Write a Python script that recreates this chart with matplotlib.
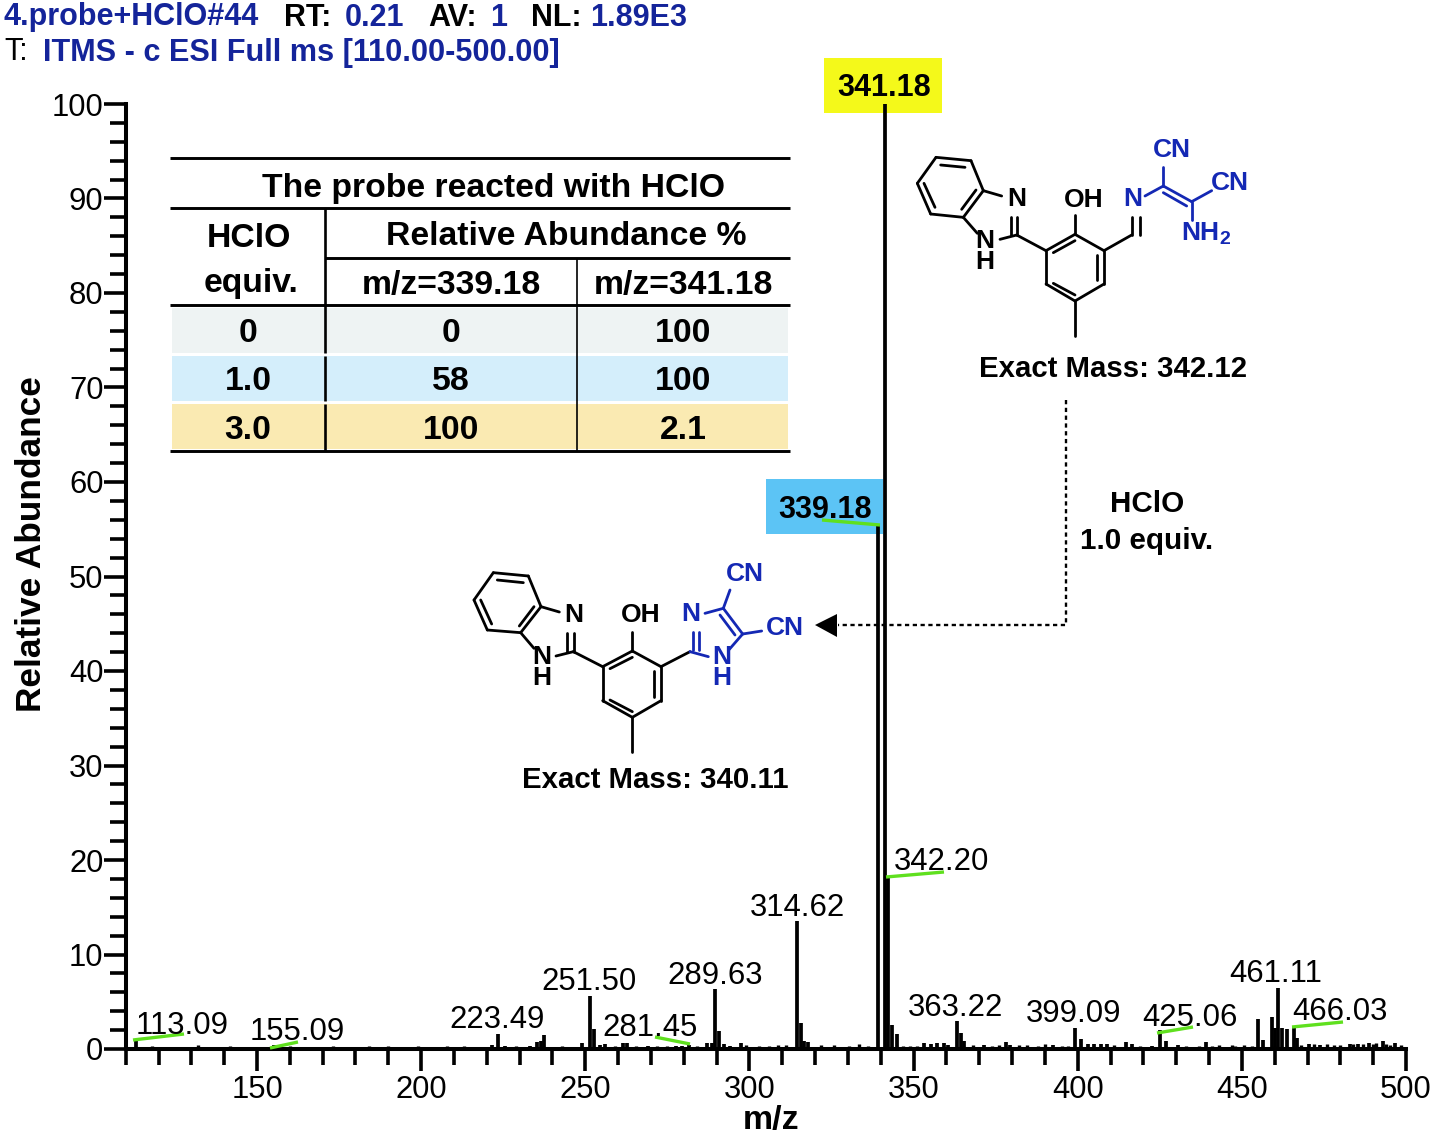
import matplotlib
matplotlib.use("Agg")
import matplotlib.pyplot as plt
from matplotlib.patches import Polygon, Rectangle

plt.rcParams['font.family'] = ['Liberation Sans', 'DejaVu Sans']

# Main peaks
peak_mz = [113.09, 155.09, 221.5, 223.49, 225.6, 233.3, 235.3, 236.5, 237.4, 249.0,
           251.50, 252.8, 254.5, 256.0, 261.5, 262.8, 269.0, 277.6, 279.5, 281.45,
           287.2, 288.5, 289.63, 290.8, 292.3, 294.2, 297.4, 314.62, 315.6, 316.6,
           317.7, 339.18, 341.18, 342.20, 343.4, 344.8, 353.3, 355.2, 357.2, 359.2,
           360.5, 363.22, 364.4, 365.3, 371.6, 378.1, 379.4, 392.5, 399.09, 401.0,
           403.0, 405.0, 407.0, 409.0, 414.8, 416.4, 422.6, 425.06, 427.0, 430.5,
           439.0, 455.0, 456.3, 459.3, 460.2, 461.11, 462.2, 463.9, 466.03, 466.9,
           470.4, 473.7, 482.9, 485.5, 488.7, 492.9, 496.6]
peak_rel = [1.0, 0.4, 0.4, 1.6, 0.3, 0.3, 0.7, 0.8, 1.5, 0.6,
            5.6, 2.1, 0.4, 0.5, 0.6, 0.6, 0.3, 0.3, 0.3, 0.4,
            0.6, 0.6, 6.3, 1.9, 0.5, 0.3, 0.6, 13.5, 2.8, 0.8,
            0.7, 55.5, 100, 18.2, 2.5, 1.6, 0.6, 0.5, 0.6, 0.6,
            0.4, 3.0, 1.7, 0.8, 0.4, 0.7, 0.4, 0.4, 2.2, 1.1,
            0.5, 0.5, 0.5, 0.5, 0.7, 0.5, 0.3, 2.0, 0.8, 0.4,
            0.7, 3.2, 0.9, 3.4, 2.2, 6.5, 2.2, 2.1, 2.3, 1.2,
            0.5, 0.4, 0.5, 0.5, 0.6, 0.8, 0.6]

# Low level noise along the baseline
noise_mz = [118, 132, 141.7, 157, 160, 173, 184, 190, 199, 208, 213, 229, 243, 259, 265.4,
            271.8, 275, 284, 299, 303, 306, 308.8, 311, 321.9, 325.8, 330.4, 333.4, 336,
            346.7, 349, 351, 368, 374, 376, 382, 384.7, 388, 390, 395.2, 397, 411, 419,
            433, 437, 441, 443, 446.9, 448, 450.8, 453, 468, 472, 476, 478, 480, 484,
            487, 490, 491, 494, 495, 498.6]
noise_rel = [0.3, 0.4, 0.3, 0.3, 0.3, 0.3, 0.3, 0.3, 0.3, 0.3, 0.3, 0.3, 0.3, 0.3, 0.3,
             0.3, 0.3, 0.3, 0.4, 0.3, 0.3, 0.4, 0.4, 0.4, 0.4, 0.3, 0.5, 0.3,
             0.3, 0.3, 0.3, 0.4, 0.3, 0.4, 0.4, 0.4, 0.3, 0.5, 0.3, 0.3, 0.4, 0.3,
             0.3, 0.3, 0.3, 0.4, 0.4, 0.3, 0.4, 0.3, 0.4, 0.5, 0.5, 0.4, 0.4, 0.5,
             0.5, 0.5, 0.6, 0.5, 0.4, 0.4]

# Labelled peaks
label_text = ['113.09', '155.09', '223.49', '251.50', '281.45', '289.63', '314.62',
              '342.20', '363.22', '399.09', '425.06', '461.11', '466.03']
label_xy = [(182, 1024), (297, 1030), (497, 1017), (589, 980), (650, 1026), (715, 973),
            (797, 905), (942, 860), (956, 1005), (1074, 1011), (1190, 1016), (1276, 971),
            (1340, 1010)]
green_lines = [[(133, 1040), (184, 1034)], [(270, 1048), (298, 1042)], [(655, 1037), (690, 1044)],
               [(886, 877), (944, 872)], [(1157, 1033), (1193, 1027)], [(1292, 1027), (1343, 1022)],
               [(822, 520), (880, 525)]]

# Table contents
table_equiv = ['0', '1.0', '3.0']
table_339 = ['0', '58', '100']
table_341 = ['100', '100', '2.1']
row_colors = ['#eef3f3', '#d4eefb', '#faeab2']

W, H = 1434, 1136
fig = plt.figure(figsize=(W / 100, H / 100), dpi=100, facecolor='white')

# background overlay in pixels, for the coloured boxes
bg = fig.add_axes([0, 0, 1, 1], zorder=0)
bg.set_xlim(0, W)
bg.set_ylim(H, 0)
bg.axis('off')
bg.add_patch(Rectangle((824, 58), 118, 55, color='#f4f91a', lw=0))
bg.add_patch(Rectangle((766, 479), 117, 55, color='#5cc4f5', lw=0))

# Spectrum
x0, x1, y0, y1 = 125.7, 1406, 1049, 104
ax = fig.add_axes([x0 / W, 1 - y0 / H, (x1 - x0) / W, (y0 - y1) / H], zorder=1)
ax.patch.set_alpha(0)
ax.set_xlim(110, 500)
ax.set_ylim(0, 100)
ax.vlines(peak_mz, 0, peak_rel, color='black', lw=2.7)
ax.vlines(noise_mz, 0, noise_rel, color='black', lw=2.4)
ax.spines['top'].set_visible(False)
ax.spines['right'].set_visible(False)
ax.spines['left'].set_linewidth(2.9)
ax.spines['bottom'].set_linewidth(2.9)
ax.set_xticks(range(150, 501, 50))
ax.set_xticks(range(110, 501, 10), minor=True)
ax.set_yticks(range(0, 101, 10))
ax.set_yticks(range(0, 101, 2), minor=True)
ax.tick_params(axis='both', which='major', length=16, width=2.6, labelsize=22.3)
ax.tick_params(axis='both', which='minor', length=11.5, width=2.6)
ax.tick_params(axis='x', which='major', pad=2.5)
ax.tick_params(axis='y', which='major', pad=0)
for s in ax.spines.values():
    s.set_zorder(5)

# foreground overlay in pixels
ov = fig.add_axes([0, 0, 1, 1], zorder=2)
ov.set_xlim(0, W)
ov.set_ylim(H, 0)
ov.axis('off')
ov.patch.set_alpha(0)


def txt(x, y, s, size=22, bold=True, color='black', ha='center'):
    ov.text(x, y - 1, s, fontsize=size, fontweight='bold' if bold else 'normal',
            color=color, ha=ha, va='center' if '\n' in s else 'center_baseline',
            linespacing=0.85)


ov.text(32, 544, 'Relative Abundance', fontsize=25.4, fontweight='bold', rotation=90,
        ha='center', va='center')
txt(771, 1118, 'm/z', 24.5)

# Header
navy = '#14249a'
for x, s, c in [(4, '4.probe+HClO#44', navy), (284, 'RT:', 'black'), (345, '0.21', navy),
                (428, 'AV:', 'black'), (490, '1', navy), (531, 'NL:', 'black'), (590, '1.89E3', navy)]:
    txt(x, 15, s, 22, color=c, ha='left')
txt(4, 50, 'T:', 22, bold=False, ha='left')
txt(43, 50, 'ITMS - c ESI Full ms [110.00-500.00]', 22.1, color=navy, ha='left')

# Peak labels
for (x, y), s in zip(label_xy, label_text):
    txt(x, y, s, 22.4, bold=False)
for seg in green_lines:
    ov.plot([p[0] for p in seg], [p[1] for p in seg], color='#5fe01e', lw=2.4, solid_capstyle='butt')
txt(884, 86, '341.18', 22)
txt(825, 508, '339.18', 22)

# Table
for i, c in enumerate(row_colors):
    ov.add_patch(Rectangle((172, 308 + i * 48), 616, 44.5, color=c, lw=0, zorder=0))
for y, xa in [(158, 170), (208, 170), (258, 325), (305, 170), (451, 170)]:
    ov.plot([xa, 790], [y, y], color='black', lw=2.1, solid_capstyle='butt')
for ya, yb in [(208, 353), (356, 401), (404, 451)]:
    ov.plot([325, 325], [ya, yb], color='black', lw=1.9, solid_capstyle='butt')
ov.plot([577, 577], [258, 451], color='black', lw=1.2, solid_capstyle='butt')
txt(493, 186, 'The probe reacted with HClO', 24.3)
txt(249, 236, 'HClO', 24.3)
txt(251, 281, 'equiv.', 24.3)
txt(566, 234, 'Relative Abundance %', 24.3)
txt(451, 283, 'm/z=339.18', 24.3)
txt(683, 283, 'm/z=341.18', 24.3)
for i in range(3):
    y = 331 + i * 48.5
    txt(248, y, table_equiv[i], 24.3)
    txt(451, y, table_339[i], 24.3)
    txt(683, y, table_341[i], 24.3)


# Structures, drawn from coordinates in the 3x zoom of each molecule
def molecule(ox, oy, black, blue, labels):
    for segs, col in [(black, 'black'), (blue, blue_col)]:
        for a, b, c, d in segs:
            ov.plot([ox + a / 3, ox + c / 3], [oy + b / 3, oy + d / 3], color=col, lw=2.0,
                    solid_capstyle='round')
    for x, y, s, col in labels:
        txt(ox + x / 3, oy + y / 3, s, 19, color=col)


blue_col = '#1428b4'
black_top = [(108, 112, 213, 122), (213, 122, 250, 212), (250, 212, 190, 292), (190, 292, 92, 282),
             (92, 282, 52, 190), (52, 190, 108, 112), (122, 135, 195, 142), (228, 210, 185, 268),
             (72, 190, 105, 262), (250, 212, 305, 228), (190, 292, 232, 340), (300, 358, 350, 345),
             (333, 290, 333, 345), (352, 290, 352, 345), (350, 345, 438, 392),
             (525, 343, 612, 392), (612, 392, 612, 492), (612, 492, 525, 543), (525, 543, 438, 492),
             (438, 492, 438, 392), (438, 392, 525, 343), (460, 398, 525, 362), (592, 405, 592, 480),
             (460, 490, 525, 525), (525, 343, 525, 285), (525, 543, 525, 648), (612, 392, 695, 345),
             (695, 345, 695, 290), (720, 345, 720, 290)]
blue_top = [(735, 228, 790, 198), (790, 198, 875, 245), (790, 218, 860, 258), (790, 198, 790, 140),
            (875, 245, 935, 212), (875, 245, 875, 300)]
labels_top = [(350, 232, 'N', 'black'), (255, 398, 'N\nH', 'black'),
              (552, 235, 'OH', 'black'), (697, 232, 'N', blue_col), (815, 85, 'CN', blue_col),
              (990, 185, 'CN', blue_col), (900, 335, 'NH', blue_col)]
molecule(900, 120, black_top, blue_top, labels_top)
ov.text(1225, 240, '2', fontsize=14, fontweight='bold', color=blue_col, ha='center', va='center')
txt(1113, 367, 'Exact Mass: 342.12', 21.2)

black_low = [(100, 68, 205, 78), (205, 78, 243, 170), (243, 170, 182, 248), (182, 248, 82, 240),
             (82, 240, 42, 150), (42, 150, 100, 68), (112, 90, 190, 98), (222, 170, 178, 228),
             (62, 150, 95, 222), (243, 170, 298, 186), (182, 248, 222, 295), (288, 318, 340, 305),
             (322, 248, 322, 305), (342, 248, 342, 305), (340, 305, 428, 350),
             (517, 303, 603, 350), (603, 350, 603, 452), (603, 452, 517, 502), (517, 502, 428, 452),
             (428, 452, 428, 350), (428, 350, 517, 303), (450, 356, 517, 322), (582, 362, 582, 440),
             (450, 450, 517, 485), (517, 303, 517, 245), (517, 502, 517, 605), (603, 350, 690, 305)]
blue_low = [(690, 305, 745, 320), (700, 245, 700, 300), (717, 245, 717, 300), (735, 190, 790, 175),
            (790, 175, 848, 252), (780, 195, 825, 255), (848, 252, 808, 298), (790, 175, 810, 120),
            (848, 252, 905, 243)]
labels_low = [(340, 190, 'N', 'black'), (245, 356, 'N\nH', 'black'),
              (543, 190, 'OH', 'black'), (693, 188, 'N', blue_col), (785, 356, 'N\nH', blue_col),
              (855, 68, 'CN', blue_col), (975, 230, 'CN', blue_col)]
molecule(460, 550, black_low, blue_low, labels_low)
txt(655, 778, 'Exact Mass: 340.11', 21.2)

# Reaction arrow
ov.plot([1066, 1066, 838], [400, 625, 625], color='black', lw=1.7, ls=(0, (1.8, 1.5)))
ov.add_patch(Polygon([(815, 625), (837, 614), (837, 637)], color='black', lw=0))
txt(1147, 502, 'HClO', 21.3)
txt(1147, 539, '1.0 equiv.', 21.3)

fig.savefig('out.png', dpi=100)
